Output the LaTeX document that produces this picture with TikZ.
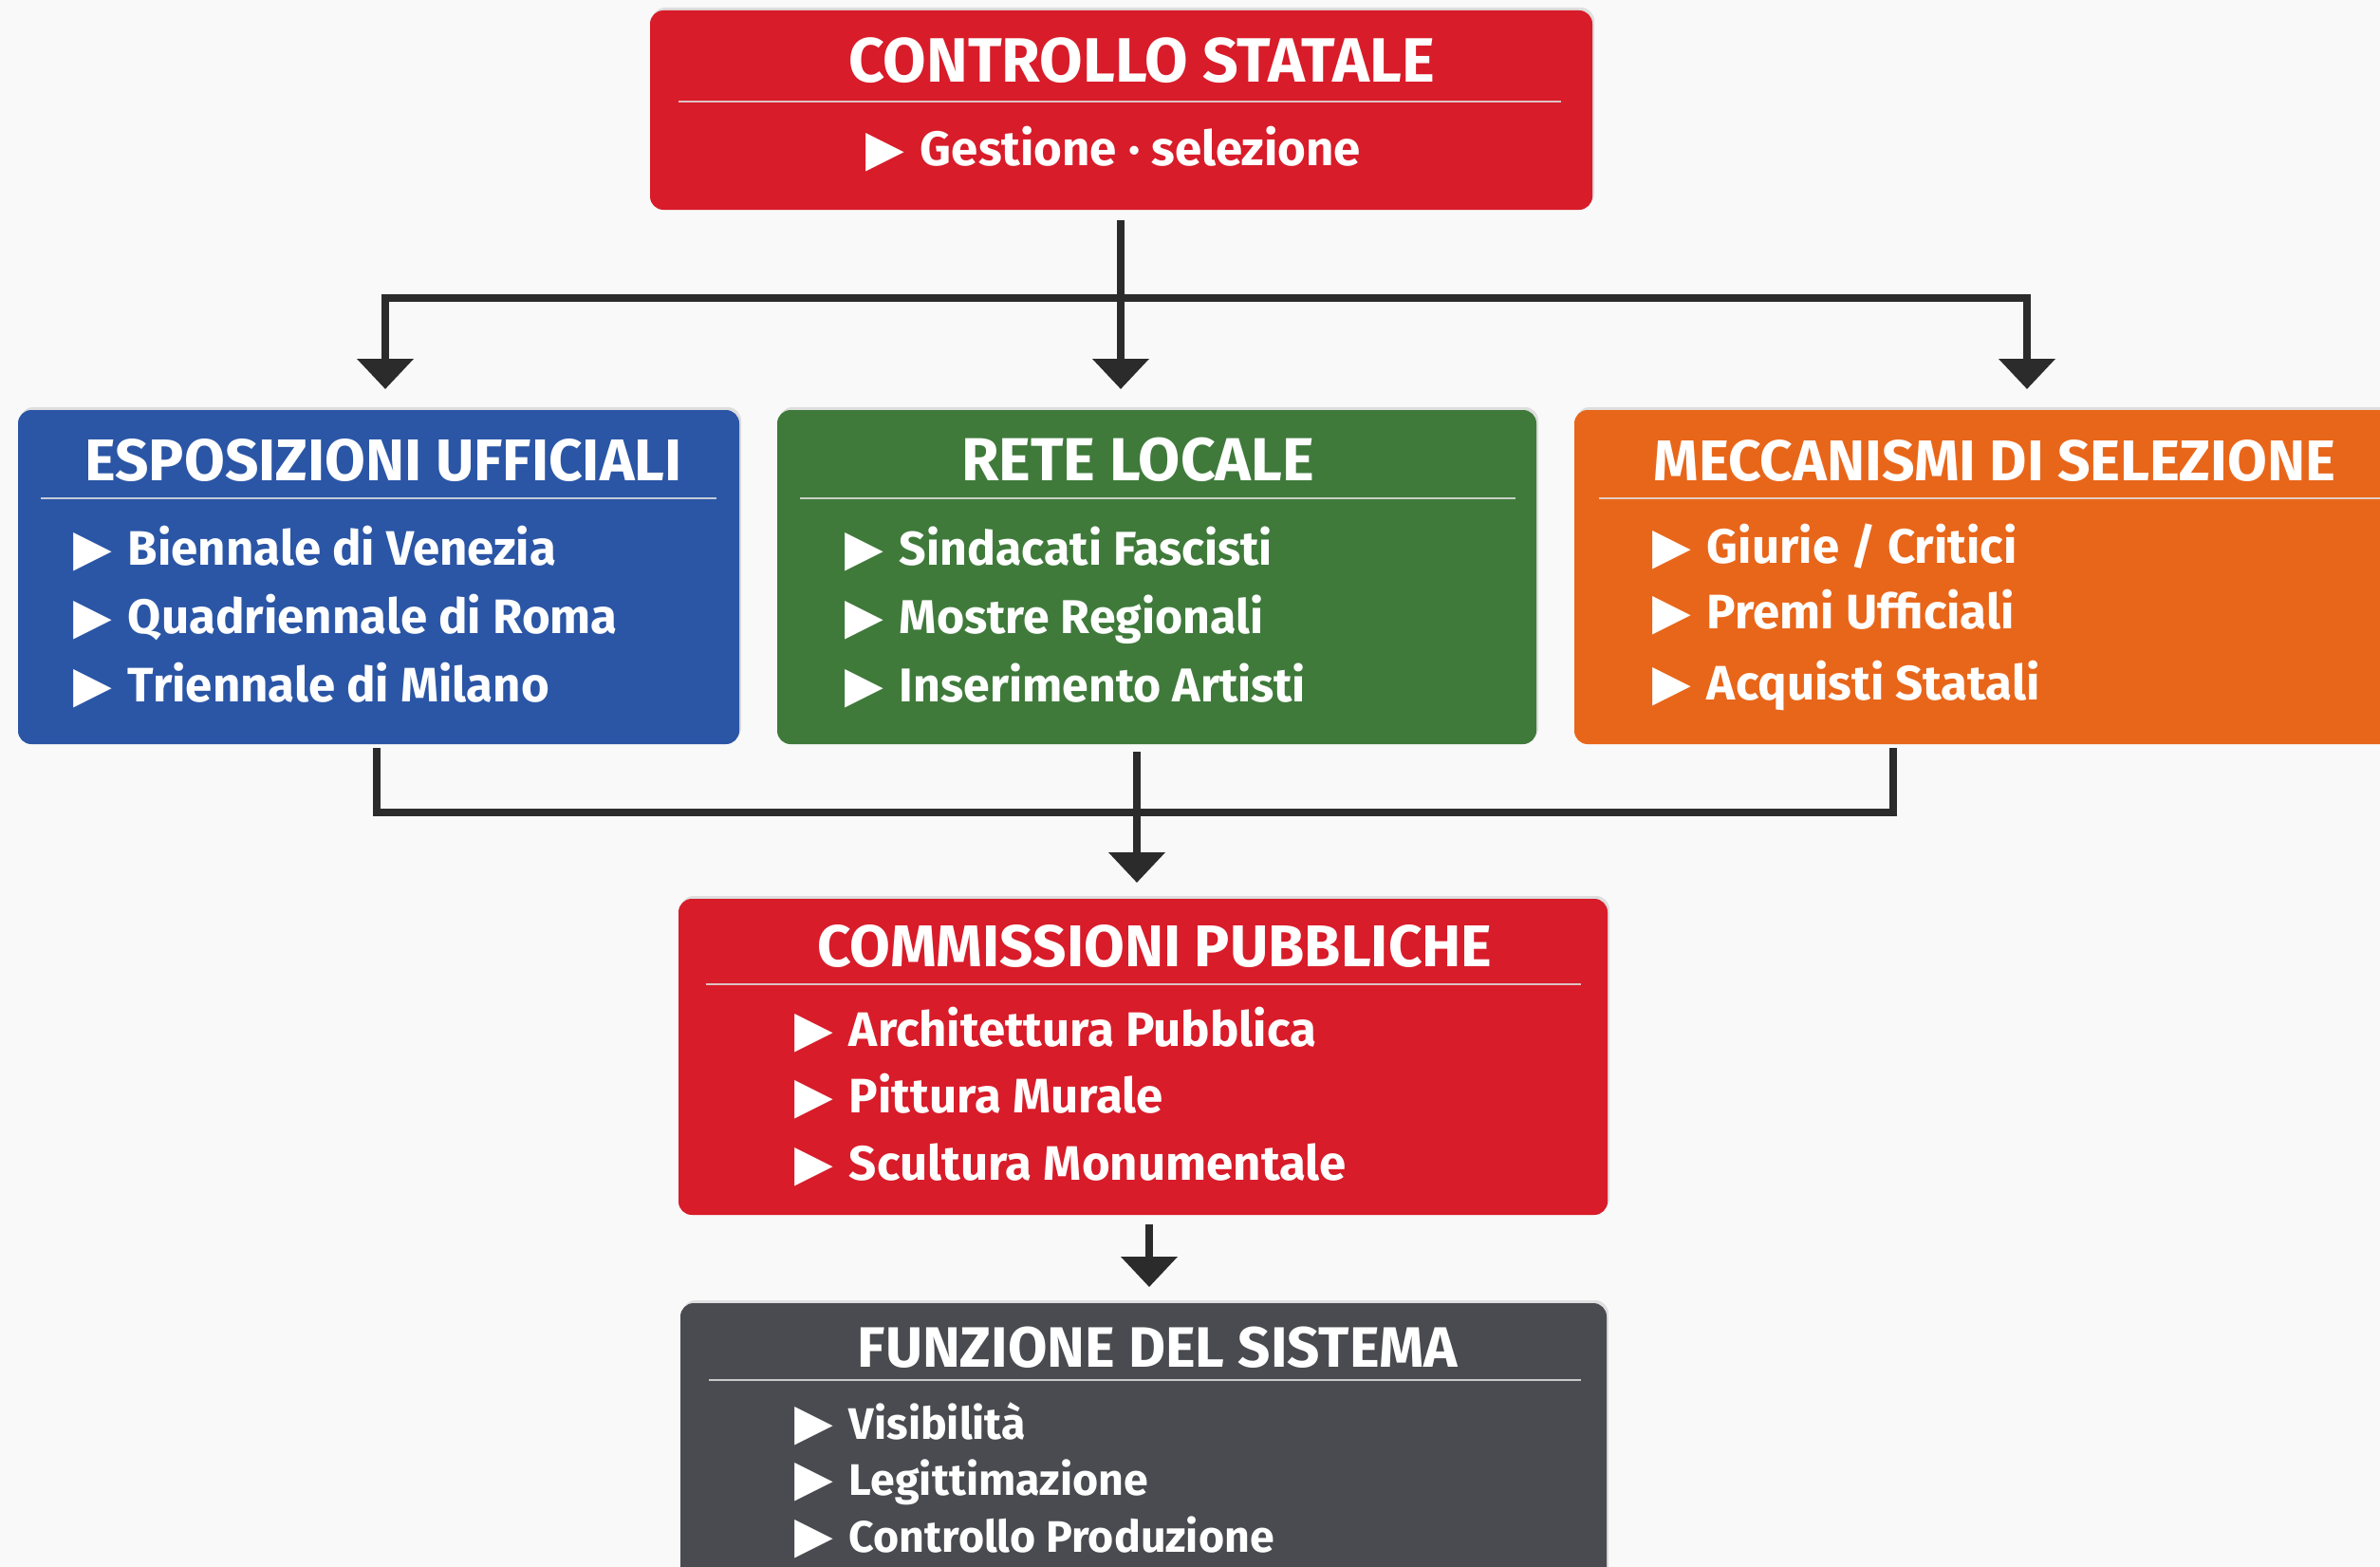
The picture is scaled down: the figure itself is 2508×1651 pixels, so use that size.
\documentclass[tikz,border=0pt]{standalone}
\usepackage{fontspec}
\setmainfont{Fira Sans}
\newfontfamily\symfont{DejaVu Sans}
\usetikzlibrary{arrows.meta,shadows}
\definecolor{cred}{HTML}{D81C2A}
\definecolor{cblue}{HTML}{2B56A6}
\definecolor{cgreen}{HTML}{3F7A3B}
\definecolor{corange}{HTML}{E8661A}
\definecolor{cgray}{HTML}{4A4B50}
\definecolor{cline}{HTML}{2B2B2B}
\definecolor{cbg}{HTML}{F9F9F9}
\tikzset{
  panel/.style={rounded corners=14pt, inner sep=0pt, draw=none,
    drop shadow={opacity=0.22, shadow xshift=2pt, shadow yshift=3pt}},
  ttl/.style={text=white, inner sep=0pt, text height=42pt, text depth=0pt,
    font=\fontsize{62}{66}\selectfont\bfseries},
  itm/.style={text=white, inner sep=0pt, anchor=west, text height=35pt, text depth=0pt,
    font=\fontsize{51}{56}\selectfont\bfseries},
  itms/.style={itm, font=\fontsize{46.5}{52}\selectfont\bfseries},
  rulel/.style={line width=2.5pt, white!88!black, opacity=0.85},
  conn/.style={line width=8pt, cline},
  arr/.style={line width=8pt, cline, -{Triangle[width=58pt,length=32pt]}},
}
\newcommand{\bul}{{\symfont\fontsize{53}{56}\selectfont ▶}\hspace{17pt}}
\begin{document}
\begin{tikzpicture}[x=1pt,y=-1pt]
\fill[cbg] (0,0) rectangle (2508,1651);
\useasboundingbox (0,0) rectangle (2508,1651);

% boxes
\node[panel, fill=cred, minimum width=993pt, minimum height=210pt] (top) at (1181.5,116) {};
\node[panel, fill=cblue, minimum width=760pt, minimum height=352pt] (esp) at (399,608) {};
\node[panel, fill=cgreen, minimum width=800pt, minimum height=352pt] (rete) at (1219,608) {};
\node[panel, fill=corange, minimum width=880pt, minimum height=352pt] (mec) at (2099,608) {};
\node[panel, fill=cred, minimum width=979pt, minimum height=333pt] (com) at (1204.5,1113.5) {};
\node[panel, fill=cgray, minimum width=976pt, minimum height=310pt] (fun) at (1205,1528) {};

% top box
\node[ttl, font=\fontsize{66}{70}\selectfont\bfseries] (topT) at (1203,66) {CONTROLLO STATALE};
\draw[rulel] (715,107) -- (1645,107);
\node[itm] (topI) at (912,157) {\bul Gestione · selezione};

% esposizioni
\node[ttl] (espT) at (404,485) {ESPOSIZIONI UFFICIALI};
\draw[rulel] (43,525) -- (755,525);
\node[itm] (espA) at (77,578) {\bul Biennale di Venezia};
\node[itm] (espB) at (77,650) {\bul Quadriennale di Roma};
\node[itm] (espC) at (77,722) {\bul Triennale di Milano};

% rete
\node[ttl, font=\fontsize{64}{68}\selectfont\bfseries] (reteT) at (1199,485) {RETE LOCALE};
\draw[rulel] (843,525) -- (1597,525);
\node[itm, font=\fontsize{50}{55}\selectfont\bfseries] (reteA) at (890,578) {\bul Sindacati Fascisti};
\node[itm, font=\fontsize{50}{55}\selectfont\bfseries] (reteB) at (890,650) {\bul Mostre Regionali};
\node[itm, font=\fontsize{50}{55}\selectfont\bfseries] (reteC) at (890,722) {\bul Inserimento Artisti};

% meccanismi
\node[ttl, font=\fontsize{60.5}{65}\selectfont\bfseries] (mecT) at (2102,485) {MECCANISMI DI SELEZIONE};
\draw[rulel] (1685,525) -- (2508,525);
\node[itm] (mecA) at (1741,576) {\bul Giurie / Critici};
\node[itm] (mecB) at (1741,645) {\bul Premi Ufficiali};
\node[itm] (mecC) at (1741,720) {\bul Acquisti Statali};

% commissioni
\node[ttl] (comT) at (1217,997) {COMMISSIONI PUBBLICHE};
\draw[rulel] (744,1037) -- (1666,1037);
\node[itm] (comA) at (837,1085) {\bul Architettura Pubblica};
\node[itm] (comB) at (837,1155) {\bul Pittura Murale};
\node[itm] (comC) at (837,1226) {\bul Scultura Monumentale};

% funzione
\node[ttl, font=\fontsize{60}{64}\selectfont\bfseries] (funT) at (1220,1419) {FUNZIONE DEL SISTEMA};
\draw[rulel] (747,1454) -- (1666,1454);
\node[itms] (funA) at (837,1499) {\bul Visibilità};
\node[itms] (funB) at (837,1558) {\bul Legittimazione};
\node[itms] (funC) at (837,1618) {\bul Controllo Produzione};

% connector coordinates
\coordinate (t0) at (1181,232);
\coordinate (bL) at (406,314);
\coordinate (bR) at (2136,314);
\coordinate (tipL) at (406,410);
\coordinate (tipM) at (1181,410);
\coordinate (tipR) at (2136,410);
\coordinate (u1) at (397,788);
\coordinate (u2) at (1198,792);
\coordinate (u3) at (1995,788);
\coordinate (v1) at (397,856);
\coordinate (v3) at (1995,856);
\coordinate (tipC) at (1198,930);
\coordinate (w0) at (1211,1290);
\coordinate (tipF) at (1211,1356);

\draw[conn, line cap=butt] ([xshift=-4pt]bL) -- ([xshift=4pt]bR);
\draw[arr] (t0) -- (tipM);
\draw[arr] (bL) -- (tipL);
\draw[arr] (bR) -- (tipR);
\draw[conn] (u1) -- ([yshift=4pt]v1) ;
\draw[conn] (u3) -- ([yshift=4pt]v3);
\draw[conn] ([xshift=-4pt]v1) -- ([xshift=4pt]v3);
\draw[arr] (u2) -- (tipC);
\draw[arr] (w0) -- (tipF);
\end{tikzpicture}
\end{document}
